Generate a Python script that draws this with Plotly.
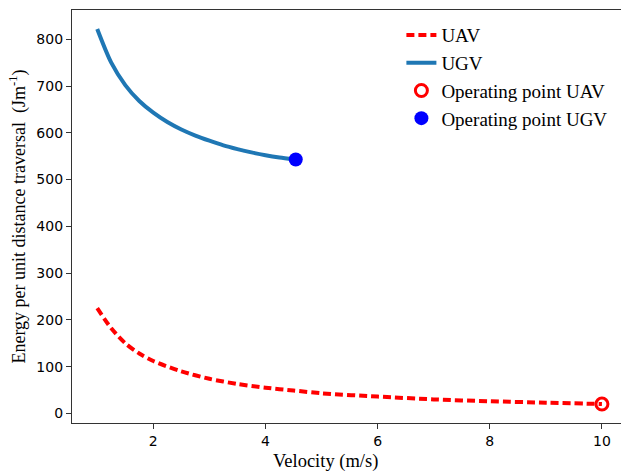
import plotly.graph_objects as go

# Data
ugv_velocity = [1.0, 1.25, 1.5, 1.75, 2.0, 2.25, 2.5, 2.75, 3.0, 3.25, 3.5, 3.75, 4.0, 4.25, 4.5]
ugv_energy = [822, 750, 702, 668, 643, 623, 607, 594, 583, 573, 565, 558, 552, 547, 543]

uav_velocity = [1.0, 1.25, 1.5, 1.75, 2.0, 2.5, 3.0, 3.5, 4.0, 4.5, 5.0, 6.0, 7.0, 8.0, 9.0, 10.0]
uav_energy = [225, 182, 150, 128, 112, 90, 74, 63, 55, 49, 43, 36, 30, 26, 23, 20]

op_uav = (10.0, 20)
op_ugv = (4.54, 543)

x_ticks = [2, 4, 6, 8, 10]
y_ticks = [0, 100, 200, 300, 400, 500, 600, 700, 800]

serif = "Liberation Serif, Times New Roman, serif"
sans = "DejaVu Sans, sans-serif"

fig = go.Figure()
fig.add_trace(go.Scatter(x=uav_velocity, y=uav_energy, mode="lines", name="UAV",
                         line=dict(color="#ff0000", width=4, dash="8px,4px", shape="spline", smoothing=0.8)))
fig.add_trace(go.Scatter(x=ugv_velocity, y=ugv_energy, mode="lines", name="UGV",
                         line=dict(color="#1f77b4", width=4, shape="spline", smoothing=0.8)))
fig.add_trace(go.Scatter(x=[op_uav[0]], y=[op_uav[1]], mode="markers", name="Operating point UAV",
                         marker=dict(symbol="circle-open", size=12, color="#ff0000",
                                     line=dict(width=3, color="#ff0000"))))
fig.add_trace(go.Scatter(x=[op_ugv[0]], y=[op_ugv[1]], mode="markers", name="Operating point UGV",
                         marker=dict(symbol="circle", size=14, color="#0000ff")))

fig.update_layout(
    width=621, height=474,
    margin=dict(l=72, r=0, t=10, b=51),
    plot_bgcolor="white", paper_bgcolor="white",
    showlegend=True,
    legend=dict(x=0.60, y=0.985, xanchor="left", yanchor="top",
                font=dict(family=serif, size=19, color="black"),
                bgcolor="rgba(255,255,255,0)", tracegroupgap=0),
    annotations=[dict(text="Velocity (m/s)", xref="paper", yref="paper",
                      x=0.461, y=-0.094, xanchor="center", yanchor="middle",
                      showarrow=False, font=dict(family=serif, size=18.5, color="black"))],
)
fig.update_xaxes(
    range=[0.55, 10.34], tickvals=x_ticks, ticktext=[str(t) for t in x_ticks],
    showline=True, linecolor="#333333", linewidth=1.2, mirror=True,
    ticks="outside", ticklen=5, tickwidth=1, tickcolor="#333333",
    showgrid=False, zeroline=False,
    tickfont=dict(family=sans, size=14, color="black"),
)
fig.update_yaxes(
    range=[-20.5, 862.5], tickvals=y_ticks, ticktext=[str(t) for t in y_ticks],
    showline=True, linecolor="#333333", linewidth=1.2,
    ticks="outside", ticklen=5, tickwidth=1, tickcolor="#333333",
    showgrid=False, zeroline=False,
    tickfont=dict(family=sans, size=14, color="black"),
    title=dict(text="Energy per unit distance traversal\u00a0\u00a0(Jm<sup>-1</sup>)",
               font=dict(family=serif, size=18, color="black"), standoff=6),
)

fig.write_html("out.html")
